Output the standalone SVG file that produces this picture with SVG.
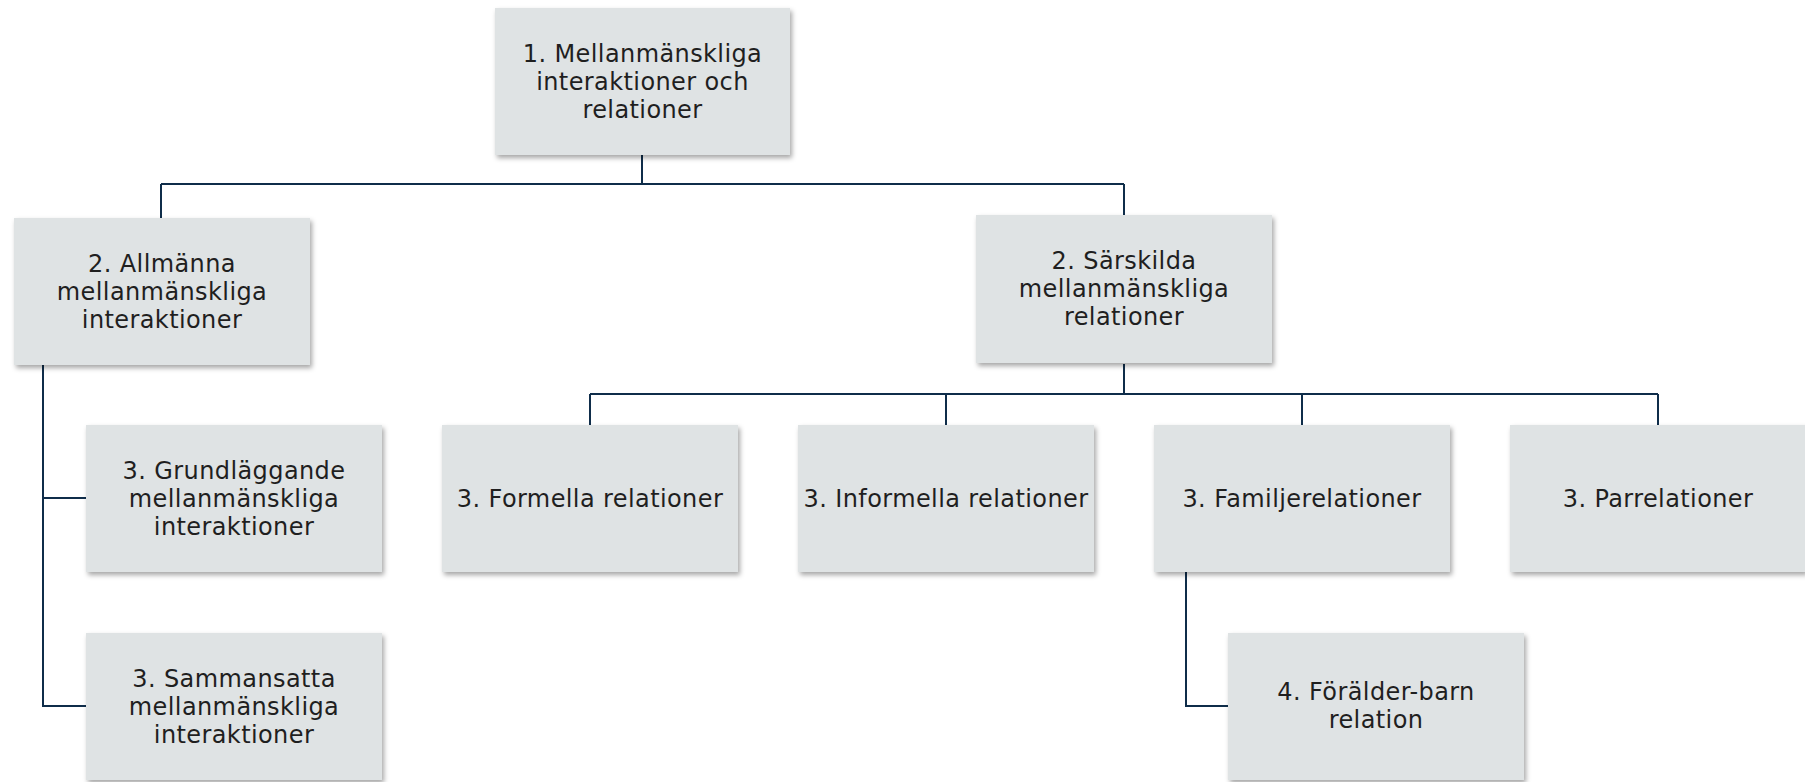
<svg xmlns="http://www.w3.org/2000/svg" width="1805" height="782" viewBox="0 0 1805 782">
<defs>
<filter id="sh" x="-10%" y="-10%" width="130%" height="130%">
<feDropShadow dx="2" dy="3" stdDeviation="2.5" flood-color="#000" flood-opacity="0.35"/>
</filter>
<style>
.box{fill:#dfe3e4;filter:url(#sh)}
.t{font-family:"DejaVu Sans","Liberation Sans",Arial,sans-serif;font-size:24px;letter-spacing:0.4px;fill:#1f1f1f;text-anchor:middle}
.c{fill:none;stroke:#0f2d4a;stroke-width:2}
</style>
</defs>
<rect width="1805" height="782" fill="#fff"/>
<g id="connectors">
<path class="c" d="M642,155 V184 M161,184 H1124 M161,184 V218 M1124,184 V215"/>
<path class="c" d="M43,365 V706 H86 M43,498 H86"/>
<path class="c" d="M1124,364 V394 M590,394 H1658 M590,394 V425 M946,394 V425 M1302,394 V425 M1658,394 V425"/>
<path class="c" d="M1186,571 V706 H1228"/>
</g>
<g id="n1"><rect class="box" x="495" y="8" width="295" height="147"/>
<text class="t" x="642.5" y="62">1. Mellanmänskliga</text><text class="t" x="642.5" y="90">interaktioner och</text><text class="t" x="642.5" y="118">relationer</text></g>
<g id="n2a"><rect class="box" x="14" y="218" width="296" height="147"/>
<text class="t" x="162" y="272">2. Allmänna</text><text class="t" x="162" y="300">mellanmänskliga</text><text class="t" x="162" y="328">interaktioner</text></g>
<g id="n2b"><rect class="box" x="976" y="215" width="296" height="148"/>
<text class="t" x="1124" y="269">2. Särskilda</text><text class="t" x="1124" y="297">mellanmänskliga</text><text class="t" x="1124" y="325">relationer</text></g>
<g id="n3a"><rect class="box" x="86" y="425" width="296" height="147"/>
<text class="t" x="234" y="479">3. Grundläggande</text><text class="t" x="234" y="507">mellanmänskliga</text><text class="t" x="234" y="535">interaktioner</text></g>
<g id="n3b"><rect class="box" x="86" y="633" width="296" height="147"/>
<text class="t" x="234" y="687">3. Sammansatta</text><text class="t" x="234" y="715">mellanmänskliga</text><text class="t" x="234" y="743">interaktioner</text></g>
<g id="n3c"><rect class="box" x="442" y="425" width="296" height="147"/>
<text class="t" x="590" y="507">3. Formella relationer</text></g>
<g id="n3d"><rect class="box" x="798" y="425" width="296" height="147"/>
<text class="t" x="946" y="507">3. Informella relationer</text></g>
<g id="n3e"><rect class="box" x="1154" y="425" width="296" height="147"/>
<text class="t" x="1302" y="507">3. Familjerelationer</text></g>
<g id="n3f"><rect class="box" x="1510" y="425" width="296" height="147"/>
<text class="t" x="1658" y="507">3. Parrelationer</text></g>
<g id="n4"><rect class="box" x="1228" y="633" width="296" height="147"/>
<text class="t" x="1376" y="700">4. Förälder-barn</text><text class="t" x="1376" y="728">relation</text></g>
</svg>
